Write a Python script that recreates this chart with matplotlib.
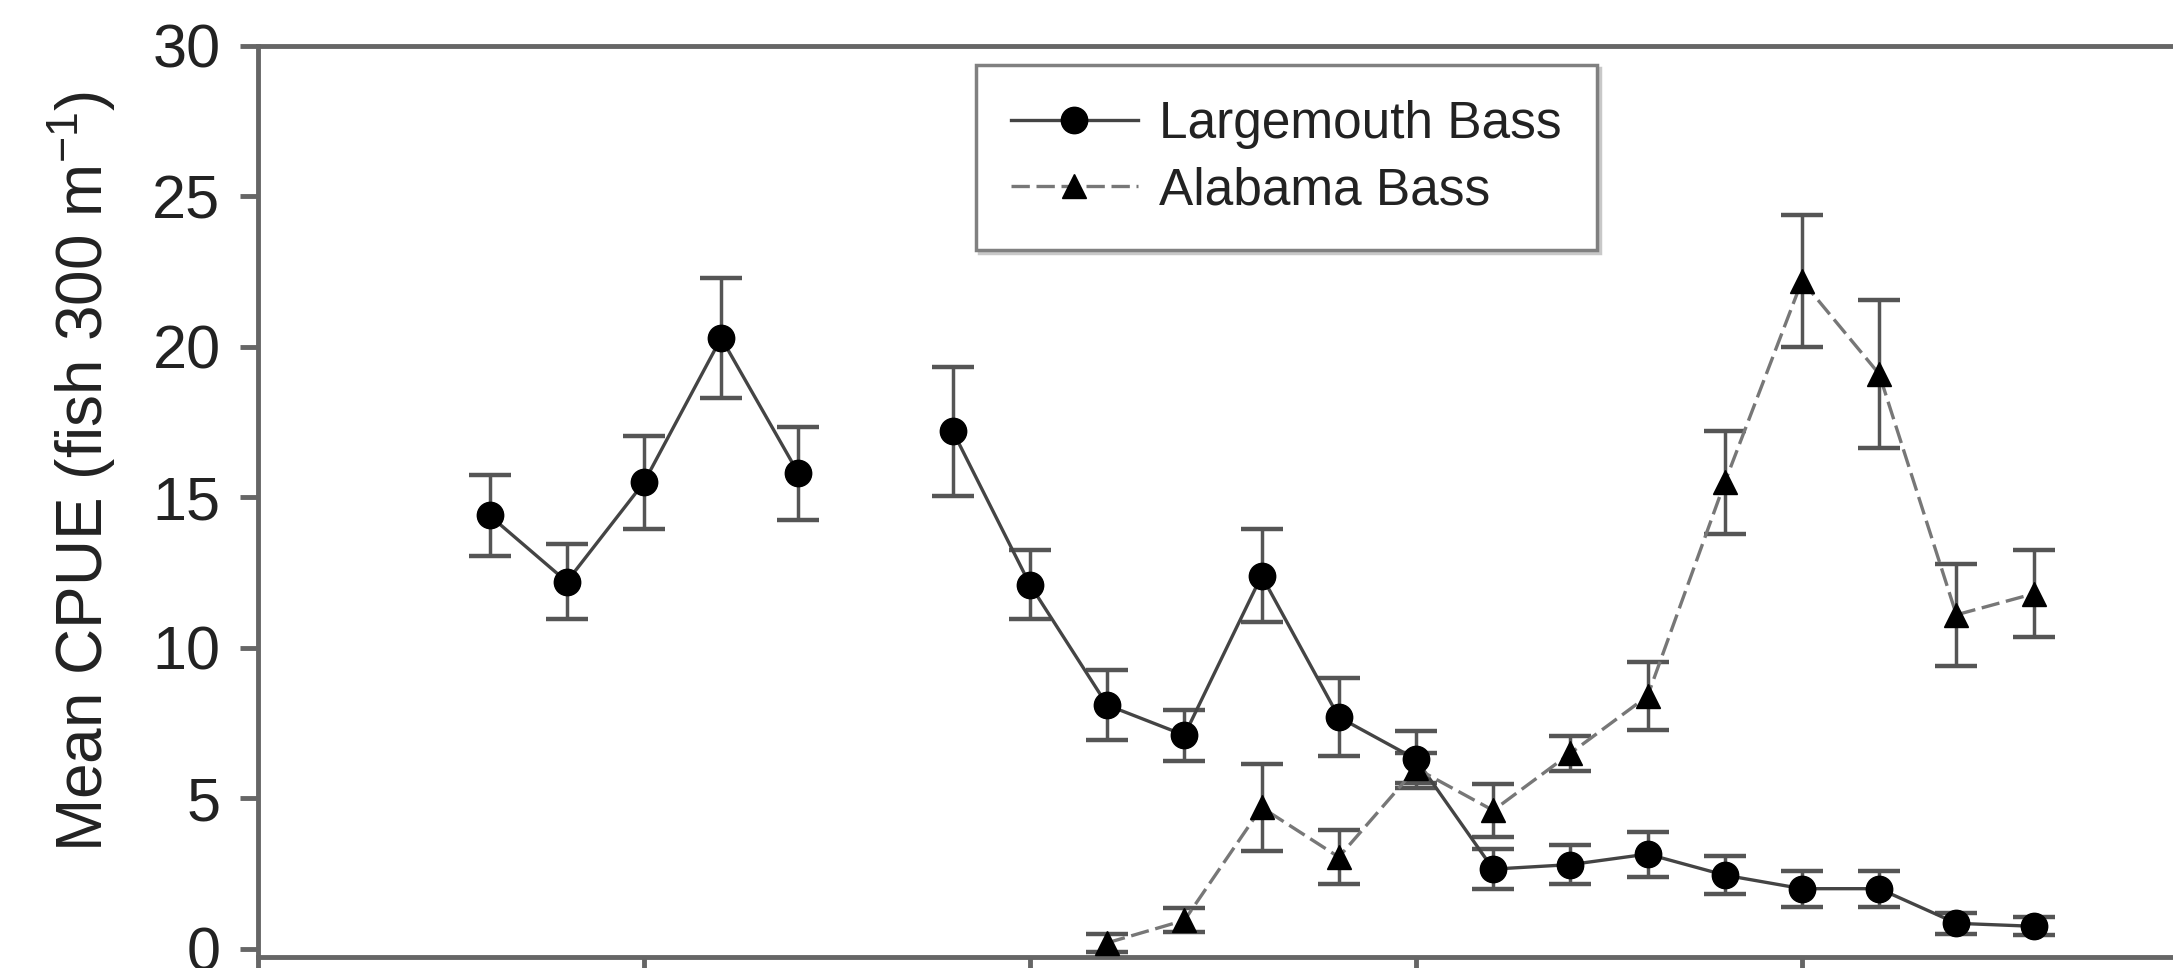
import numpy as np
import matplotlib
matplotlib.use('Agg')
import matplotlib.pyplot as plt

plt.rcParams['font.family'] = ['Liberation Sans', 'DejaVu Sans']
plt.rcParams['mathtext.default'] = 'regular'

################################### Data ##################################

# sample index along x (8 missing for largemouth)
x_lmb = [3, 4, 5, 6, 7, 8, 9, 10, 11, 12, 13, 14, 15, 16, 17, 18, 19, 20, 21, 22, 23]
cpue_lmb = [14.4, 12.2, 15.5, 20.3, 15.8, np.nan, 17.2, 12.1, 8.1, 7.1, 12.4, 7.7,
            6.3, 2.65, 2.8, 3.15, 2.45, 2.0, 2.0, 0.85, 0.75]
se_lmb = [1.35, 1.25, 1.55, 2.0, 1.55, np.nan, 2.15, 1.15, 1.15, 0.85, 1.55, 1.3,
          0.95, 0.66, 0.66, 0.75, 0.63, 0.6, 0.6, 0.35, 0.3]

x_ab = [11, 12, 13, 14, 15, 16, 17, 18, 19, 20, 21, 22, 23]
cpue_ab = [0.2, 0.95, 4.7, 3.05, 6.0, 4.6, 6.5, 8.4, 15.5, 22.2, 19.1, 11.1, 11.8]
se_ab = [0.3, 0.4, 1.45, 0.9, 0.5, 0.88, 0.58, 1.13, 1.7, 2.2, 2.45, 1.7, 1.45]

yticks = [0, 5, 10, 15, 20, 25, 30]
xticks = [0, 5, 10, 15, 20, 25]

################################### Plotting ###############################

W, H = 2173, 968
fig = plt.figure(figsize=(W / 100, H / 100), dpi=100)
ax = fig.add_axes([258 / W, 11 / H, 1930 / W, 911 / H])

ecol = '#555555'
ax.errorbar(x_lmb, cpue_lmb, yerr=se_lmb, fmt='none', ecolor=ecol,
            elinewidth=2.5, capsize=15, capthick=3.2, zorder=2)
ax.errorbar(x_ab, cpue_ab, yerr=se_ab, fmt='none', ecolor=ecol,
            elinewidth=2.5, capsize=15, capthick=3.2, zorder=2)

ax.plot(x_lmb, cpue_lmb, color='#444444', lw=2.4, marker='o', ms=19,
        mfc='black', mec='black', label='Largemouth Bass', zorder=3)
ax.plot(x_ab, cpue_ab, color='#777777', lw=2.4, dashes=(5.5, 2), marker='^', ms=17,
        mfc='black', mec='black', label='Alabama Bass', zorder=3)

ax.set_xlim(0, 25)
ax.set_ylim(-0.27, 30)
ax.set_yticks(yticks)
ax.set_xticks(xticks)
ax.set_xticklabels([])

for s in ['left', 'bottom', 'top']:
    ax.spines[s].set_color('#666666')
    ax.spines[s].set_linewidth(3.5)
ax.spines['right'].set_visible(False)

ax.tick_params(axis='both', direction='out', length=13, width=3.5, color='#666666',
               labelsize=44, labelcolor='#222222', pad=14)
ax.tick_params(axis='x', pad=0)

fig.text(82 / W, 1 - 471 / H, 'Mean CPUE (fish 300 m$^{-1}$)', rotation=90,
         ha='center', va='center', fontsize=46, color='#222222')

leg = ax.legend(loc='upper left', bbox_to_anchor=(976 / W, 1 - 65 / H),
                bbox_transform=fig.transFigure, borderaxespad=0, fontsize=37,
                handlelength=2.47, handletextpad=0.42, borderpad=0.68,
                labelspacing=0.34, fancybox=False,
                shadow={'color': '#c8c8c8', 'alpha': 1})
leg.get_frame().set_edgecolor('#808080')
leg.get_frame().set_linewidth(2.5)
for t in leg.get_texts():
    t.set_color('#222222')

fig.savefig('out.png', dpi=100)
